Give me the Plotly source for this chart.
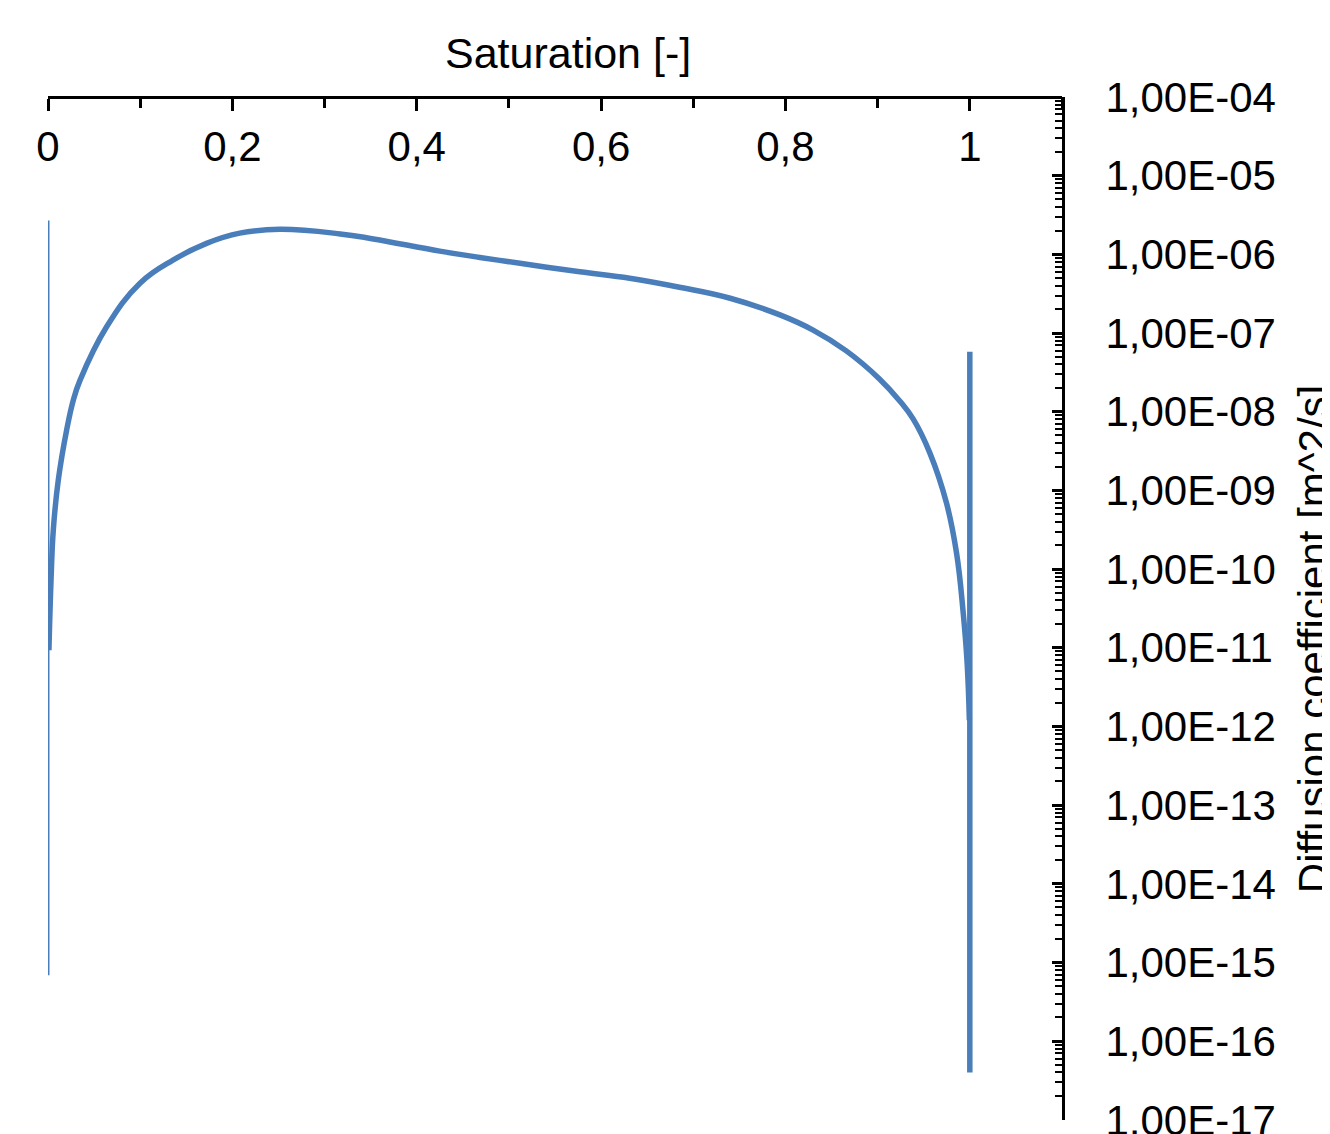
import plotly.graph_objects as go

# Main curve: saturation vs diffusion coefficient
saturation = [0.001, 0.0033, 0.0058, 0.0112, 0.0203, 0.0275, 0.0347, 0.0636, 0.0998, 0.136,
              0.172, 0.208, 0.2516, 0.317, 0.353, 0.425, 0.4685, 0.512, 0.577, 0.631,
              0.685, 0.740, 0.794, 0.830, 0.866, 0.902, 0.924, 0.9385, 0.9566, 0.9747,
              0.9856, 0.9928, 0.9971, 0.9995]
diffusion = [9.3e-12, 7.3e-11, 3.2e-10, 1.36e-9, 5.9e-9, 1.41e-8, 2.5e-8, 1.2e-7, 4.3e-7, 8.5e-7,
             1.38e-6, 1.86e-6, 2.08e-6, 1.82e-6, 1.57e-6, 1.10e-6, 9.14e-7, 7.7e-7, 6.0e-7, 4.97e-7,
             3.82e-7, 2.77e-7, 1.70e-7, 1.09e-7, 5.93e-8, 2.61e-8, 1.37e-8, 8.1e-9, 3.0e-9, 6.9e-10,
             1.6e-10, 2.8e-11, 6.4e-12, 1.2e-12]

# Vertical segments at the boundaries
left_x = [0.0, 0.0]
left_y = [2.7e-6, 6.9e-16]
right_x = [1.0, 1.0]
right_y = [5.8e-8, 4.0e-17]

x_tickvals = [0, 0.2, 0.4, 0.6, 0.8, 1.0]
x_ticktext = ["0", "0,2", "0,4", "0,6", "0,8", "1"]
y_exponents = list(range(-17, -3))
y_tickvals = [10.0 ** e for e in y_exponents]
y_ticktext = ["1,00E-%02d" % (-e) for e in y_exponents]
y_minor = [m * 10.0 ** e for e in range(-17, -4) for m in range(2, 10)]

BLUE = "#4a7ebb"
FONT = "Liberation Sans, Arial, sans-serif"
TICK_SIZE = 42

fig = go.Figure()
fig.add_trace(go.Scatter(x=left_x, y=left_y, mode="lines",
                         line=dict(color=BLUE, width=3), showlegend=False))
fig.add_trace(go.Scatter(x=right_x, y=right_y, mode="lines",
                         line=dict(color=BLUE, width=5.5), showlegend=False))
fig.add_trace(go.Scatter(x=saturation, y=diffusion, mode="lines",
                         line=dict(color=BLUE, width=5.5, shape="spline", smoothing=1.2),
                         showlegend=False))

fig.update_layout(
    width=1322, height=1126,
    margin=dict(l=40, r=268, t=89, b=14, autoexpand=False),
    paper_bgcolor="white", plot_bgcolor="white",
    font=dict(family=FONT, color="black", size=TICK_SIZE),
    xaxis=dict(
        range=[0, 1.1], side="bottom", anchor="free", position=1, automargin=False,
        showline=True, linecolor="black", linewidth=3,
        showgrid=False, zeroline=False,
        tickmode="array", tickvals=x_tickvals, ticktext=x_ticktext,
        ticks="outside", ticklen=12, tickwidth=3, tickcolor="black",
        ticklabelstandoff=0,
        minor=dict(dtick=0.1, tick0=0, ticks="outside", ticklen=9, tickwidth=3, tickcolor="black"),
        tickfont=dict(size=TICK_SIZE, family=FONT, color="black"),
    ),
    yaxis=dict(
        type="log", range=[-17.002, -4], side="right", automargin=False,
        showline=True, linecolor="black", linewidth=3,
        showgrid=False, zeroline=False,
        tickmode="array", tickvals=y_tickvals, ticktext=y_ticktext,
        ticks="inside", ticklen=10, tickwidth=3, tickcolor="black",
        ticklabelstandoff=32, ticklabeloverflow="allow",
        minor=dict(tickmode="array", tickvals=y_minor, ticks="inside", ticklen=7,
                   tickwidth=2, tickcolor="black"),
        tickfont=dict(size=TICK_SIZE, family=FONT, color="black"),
    ),
    annotations=[
        dict(text="Saturation [-]", xref="paper", yref="paper", x=0.513, y=1.043,
             xanchor="center", yanchor="middle", showarrow=False,
             font=dict(size=43, family=FONT, color="black")),
        dict(text="Diffusion coefficient [m^2/s]", xref="paper", yref="paper",
             x=1.2475, y=0.470, textangle=-90, xanchor="center", yanchor="middle",
             showarrow=False, font=dict(size=42, family=FONT, color="black")),
    ],
)

fig.write_html("out.html")
